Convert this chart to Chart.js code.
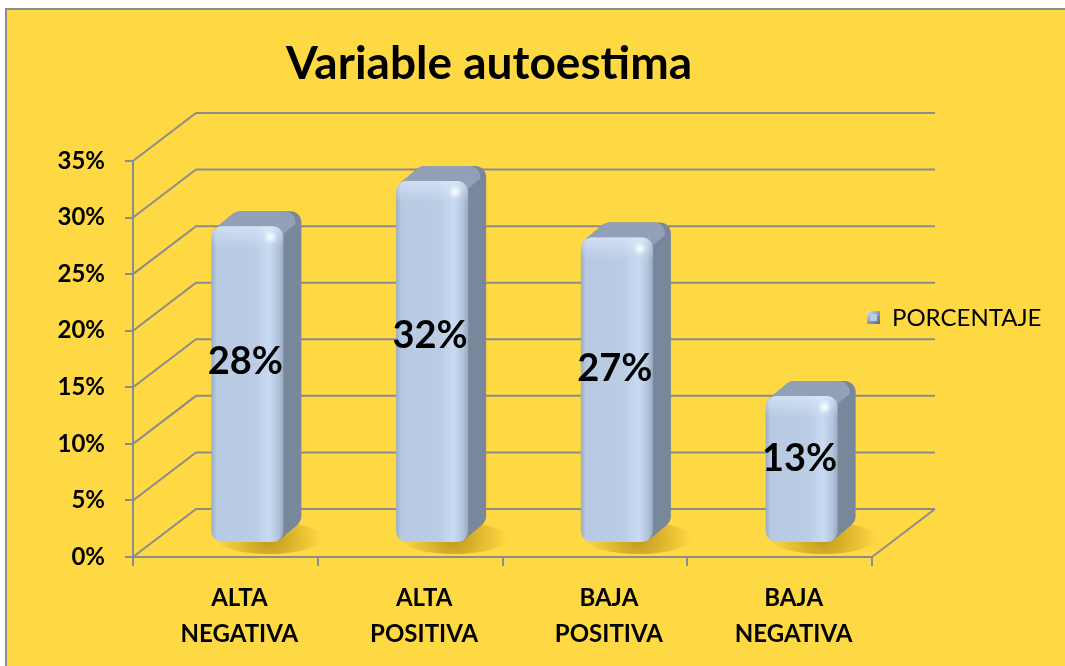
<!DOCTYPE html>
<html>
<head>
<meta charset="utf-8">
<script src="https://cdn.jsdelivr.net/npm/chart.js@4.4.1/dist/chart.umd.min.js"></script>
<style>
  html, body { margin: 0; padding: 0; background: #fff; }
  #box { width: 1065px; height: 666px; }
</style>
</head>
<body>
<div id="box"><canvas id="chart" width="1065" height="666"></canvas></div>
<script>
// datos del gráfico
const chartTitle = 'Variable autoestima';
const seriesName = 'PORCENTAJE';
const categories = [['ALTA', 'NEGATIVA'], ['ALTA', 'POSITIVA'], ['BAJA', 'POSITIVA'], ['BAJA', 'NEGATIVA']];
const porcentaje = [28, 32, 27, 13];
const yTicks = [0, 5, 10, 15, 20, 25, 30, 35];

const FONT = 'Lato, "Open Sans", sans-serif';
const GRID = '#8c8c8c';
const YELLOW = '#ffd944';
const WALL = { dx: 63, dy: 48 };   // profundidad del fondo 3D
const BAR_POS = { dx: 22, dy: 14 };  // posición de la barra dentro del piso
const BAR_DEPTH = { dx: 18, dy: 15 };

// fondo, marco y título
const frame = {
  id: 'frame',
  beforeDraw(chart) {
    const ctx = chart.ctx;
    ctx.save();
    ctx.fillStyle = '#fff';
    ctx.fillRect(0, 0, chart.width, chart.height);
    ctx.fillStyle = YELLOW;
    ctx.fillRect(6, 9, chart.width, chart.height);
    ctx.strokeStyle = GRID;
    ctx.lineWidth = 2;
    ctx.beginPath();
    ctx.moveTo(6, chart.height); ctx.lineTo(6, 9); ctx.lineTo(chart.width, 9);
    ctx.stroke();
    ctx.fillStyle = '#000';
    ctx.font = 'bold 46px ' + FONT;
    ctx.textAlign = 'center';
    ctx.textBaseline = 'alphabetic';
    ctx.fillText(chartTitle, 489, 79);
    ctx.restore();
  }
};

// líneas de la pared y del piso en perspectiva
const grid3d = {
  id: 'grid3d',
  beforeDatasetsDraw(chart) {
    const { ctx, chartArea: a, scales: { y } } = chart;
    ctx.save();
    ctx.strokeStyle = GRID;
    ctx.lineWidth = 2;
    yTicks.forEach(v => {
      const py = y.getPixelForValue(v);
      ctx.beginPath();
      ctx.moveTo(a.left, py);
      ctx.lineTo(a.left + WALL.dx, py - WALL.dy);
      ctx.lineTo(a.right + WALL.dx, py - WALL.dy);
      ctx.stroke();
    });
    ctx.beginPath();
    ctx.moveTo(a.right, a.bottom);
    ctx.lineTo(a.right + WALL.dx, a.bottom - WALL.dy);
    ctx.stroke();
    ctx.restore();
  }
};

function drawBar(ctx, L, T, w, B) {
  const h = B - T, r = 11;
  const R = L + w;
  // sombra en el piso
  const g = ctx.createRadialGradient(L + w * 0.8, B - 4, 4, L + w * 0.8, B - 4, w * 0.75);
  g.addColorStop(0, 'rgba(150,110,0,0.55)');
  g.addColorStop(1, 'rgba(150,110,0,0)');
  ctx.save();
  ctx.fillStyle = g;
  ctx.beginPath();
  ctx.ellipse(L + w * 0.8, B - 4, w * 0.75, 16, 0, 0, Math.PI * 2);
  ctx.fill();
  ctx.restore();
  // volumen
  const steps = 24;
  for (let i = steps; i >= 1; i--) {
    const ox = BAR_DEPTH.dx * i / steps, oy = -BAR_DEPTH.dy * i / steps;
    ctx.fillStyle = '#7b889b';
    ctx.beginPath(); ctx.roundRect(L + ox, T + oy, w, h, r); ctx.fill();
  }
  for (let i = steps; i >= 1; i--) {
    const ox = BAR_DEPTH.dx * i / steps, oy = -BAR_DEPTH.dy * i / steps;
    ctx.fillStyle = '#92a1b7';
    ctx.beginPath(); ctx.roundRect(L + ox, T + oy, w - 6, r + 2, [r, r, 0, 0]); ctx.fill();
  }
  // cara frontal
  const fg = ctx.createLinearGradient(L, 0, R, 0);
  fg.addColorStop(0, '#9aadc6');
  fg.addColorStop(0.07, '#b7cae2');
  fg.addColorStop(0.6, '#bacde5');
  fg.addColorStop(0.8, '#c9dbf2');
  fg.addColorStop(0.93, '#b2c5dd');
  fg.addColorStop(1, '#97a9c1');
  ctx.fillStyle = fg;
  ctx.beginPath(); ctx.roundRect(L, T, w, h, r); ctx.fill();
  const vg = ctx.createLinearGradient(0, T, 0, T + 22);
  vg.addColorStop(0, 'rgba(230,240,255,0.55)');
  vg.addColorStop(1, 'rgba(230,240,255,0)');
  ctx.fillStyle = vg;
  ctx.beginPath(); ctx.roundRect(L, T, w, 22, [r, r, 0, 0]); ctx.fill();
  const sg = ctx.createRadialGradient(R - 13, T + 11, 0, R - 13, T + 11, 7);
  sg.addColorStop(0, 'rgba(255,255,255,0.95)');
  sg.addColorStop(1, 'rgba(255,255,255,0)');
  ctx.fillStyle = sg;
  ctx.fillRect(R - 20, T + 4, 14, 14);
}

// barras 3D, etiquetas y leyenda
const bars3d = {
  id: 'bars3d',
  afterDatasetsDraw(chart) {
    const ctx = chart.ctx;
    const meta = chart.getDatasetMeta(0);
    ctx.save();
    meta.data.forEach(bar => {
      const L = bar.x - bar.width / 2 + BAR_POS.dx;
      const T = bar.y - BAR_POS.dy;
      const B = bar.base - BAR_POS.dy;
      drawBar(ctx, L, T, bar.width, B);
    });
    ctx.fillStyle = '#000';
    ctx.font = 'bold 38px ' + FONT;
    ctx.textAlign = 'center';
    ctx.textBaseline = 'middle';
    meta.data.forEach((bar, i) => {
      const cx = bar.x + BAR_POS.dx - 2;
      const B = bar.base - BAR_POS.dy;
      const T = bar.y - BAR_POS.dy;
      ctx.fillText(porcentaje[i] + '%', cx, B - (B - T) * 0.57);
    });
    // leyenda
    const lx = 867, ly = 311;
    const ig = ctx.createLinearGradient(lx, ly, lx + 13, ly + 13);
    ig.addColorStop(0, '#dfe8f5');
    ig.addColorStop(0.5, '#8d9cb2');
    ig.addColorStop(1, '#5d6a7d');
    ctx.fillStyle = ig;
    ctx.fillRect(lx, ly, 13, 13);
    ctx.fillStyle = '#b9cce4';
    ctx.fillRect(lx + 3, ly + 3, 7, 7);
    ctx.fillStyle = '#000';
    ctx.font = '24px ' + FONT;
    ctx.textAlign = 'left';
    ctx.fillText(seriesName, 892, ly + 7);
    ctx.restore();
  }
};

new Chart(document.getElementById('chart'), {
  type: 'bar',
  data: {
    labels: categories,
    datasets: [{
      label: seriesName,
      data: porcentaje,
      backgroundColor: 'rgba(0,0,0,0)',
      categoryPercentage: 1,
      barPercentage: 0.39
    }]
  },
  options: {
    responsive: false,
    animation: false,
    layout: { padding: { left: 0, top: 161, right: 193, bottom: 0 } },
    plugins: { legend: { display: false }, title: { display: false }, tooltip: { enabled: false } },
    scales: {
      y: {
        min: 0, max: 35,
        afterFit: s => { s.width = 133; },
        ticks: { stepSize: 5, callback: v => v + '%', color: '#000', padding: 20,
                 font: { family: FONT, weight: 'bold', size: 24 } },
        grid: { drawOnChartArea: false, drawTicks: true, tickLength: 8, color: GRID, lineWidth: 2 },
        border: { color: GRID, width: 2 }
      },
      x: {
        afterFit: s => { s.height = 109; },
        ticks: { color: '#000', padding: 14, labelOffset: 14, maxRotation: 0,
                 font: { family: FONT, weight: 'bold', size: 24, lineHeight: 1.5 } },
        grid: { drawOnChartArea: false, drawTicks: true, tickLength: 9, color: GRID, lineWidth: 2 },
        border: { color: GRID, width: 2 }
      }
    }
  },
  plugins: [frame, grid3d, bars3d]
});
</script>
</body>
</html>
